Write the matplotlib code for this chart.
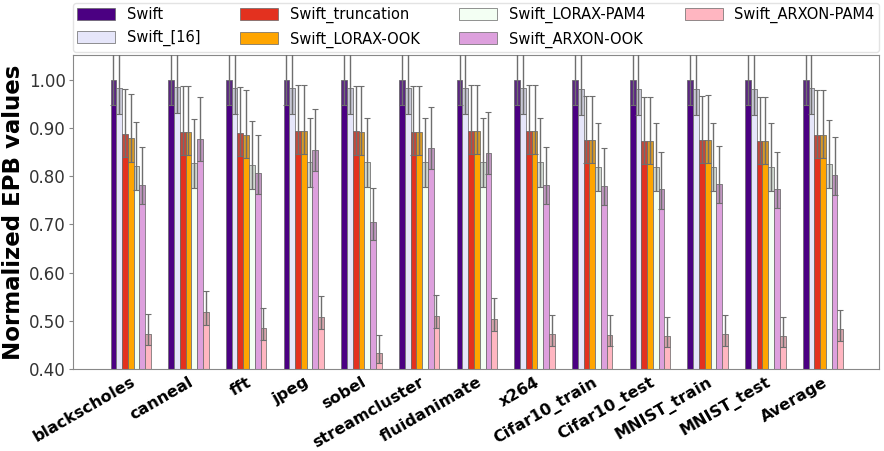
import matplotlib
matplotlib.use("Agg")
import matplotlib.pyplot as plt
import numpy as np

benchmarks = ["blackscholes", "canneal", "fft", "jpeg", "sobel", "streamcluster",
              "fluidanimate", "x264", "Cifar10_train", "Cifar10_test",
              "MNIST_train", "MNIST_test", "Average"]

series = ["Swift", "Swift_[16]", "Swift_truncation", "Swift_LORAX-OOK",
          "Swift_LORAX-PAM4", "Swift_ARXON-OOK", "Swift_ARXON-PAM4"]

swift = [1.00] * 13
swift_16 = [0.983, 0.985, 0.983, 0.983, 0.983, 0.983, 0.984, 0.984, 0.981, 0.982, 0.982, 0.982, 0.983]
swift_trunc = [0.888, 0.893, 0.891, 0.895, 0.894, 0.893, 0.895, 0.895, 0.875, 0.873, 0.875, 0.874, 0.886]
lorax_ook = [0.879, 0.893, 0.886, 0.895, 0.893, 0.893, 0.895, 0.895, 0.875, 0.874, 0.876, 0.874, 0.886]
lorax_pam4 = [0.822, 0.828, 0.824, 0.830, 0.829, 0.830, 0.830, 0.830, 0.820, 0.820, 0.820, 0.820, 0.826]
arxon_ook = [0.783, 0.878, 0.806, 0.855, 0.705, 0.859, 0.849, 0.783, 0.780, 0.773, 0.785, 0.774, 0.802]
arxon_pam4 = [0.473, 0.518, 0.485, 0.508, 0.434, 0.510, 0.504, 0.472, 0.471, 0.468, 0.472, 0.468, 0.482]

rel_err_hi = [0.10, 0.10, 0.105, 0.105, 0.11, 0.10, 0.085]
rel_err_lo = [0.052, 0.055, 0.055, 0.055, 0.062, 0.052, 0.05]

colors = ["#4b0082", "#e6e6fa", "#e3311f", "#ffa500", "#f3fff3", "#dda0dd", "#ffb6c1"]

values = [swift, swift_16, swift_trunc, lorax_ook, lorax_pam4, arxon_ook, arxon_pam4]

fig = plt.figure(figsize=(8.84, 4.51), dpi=100)
ax = fig.add_axes([0.0826, 0.182, 0.9117, 0.696])

x = np.arange(len(benchmarks))
width = 0.1
for i, (name, vals, col) in enumerate(zip(series, values, colors)):
    vals = np.array(vals)
    pos = x + (i - 3) * width
    lo = vals * rel_err_lo[i]
    hi = vals * rel_err_hi[i]
    ax.bar(pos, vals, width, color=col, edgecolor="#666666", linewidth=0.5,
           label=name, zorder=2)
    ax.bar(pos, lo, width, bottom=vals - lo, color="#808080", alpha=0.3,
           edgecolor="#666666", linewidth=0.5, zorder=3)
    ax.errorbar(pos, vals, yerr=[lo, hi], fmt="none", ecolor="#6e6e6e",
                elinewidth=1.0, capsize=2, capthick=0.8, zorder=4)

ax.set_xlim(-1.0, 12.97)
ax.set_ylim(0.40, 1.052)
ax.set_yticks(np.arange(0.40, 1.01, 0.10))
ax.set_yticklabels([f"{t:.2f}" for t in np.arange(0.40, 1.01, 0.10)],
                   fontsize=12, color="#333333")
ax.set_xticks(x)
ax.set_xticklabels(benchmarks, rotation=30, ha="right", rotation_mode="anchor",
                   fontsize=11.5, fontweight="bold")
ax.tick_params(axis="x", length=0, pad=4)
ax.tick_params(axis="y", length=3, color="#888888", pad=2)
for sp in ax.spines.values():
    sp.set_color("#888888")
ax.set_ylabel("Normalized EPB values", fontsize=16.5, fontweight="bold", labelpad=3)

ax.legend(loc="lower left", bbox_to_anchor=(0, 1.01, 1, 0.16), mode="expand",
          ncol=4, fontsize=10.5, frameon=True, borderaxespad=0,
          handlelength=2.6, handleheight=0.9, edgecolor="#dddddd",
          columnspacing=1.0, labelspacing=0.55, borderpad=0.3)

fig.savefig("out.png", dpi=100)
